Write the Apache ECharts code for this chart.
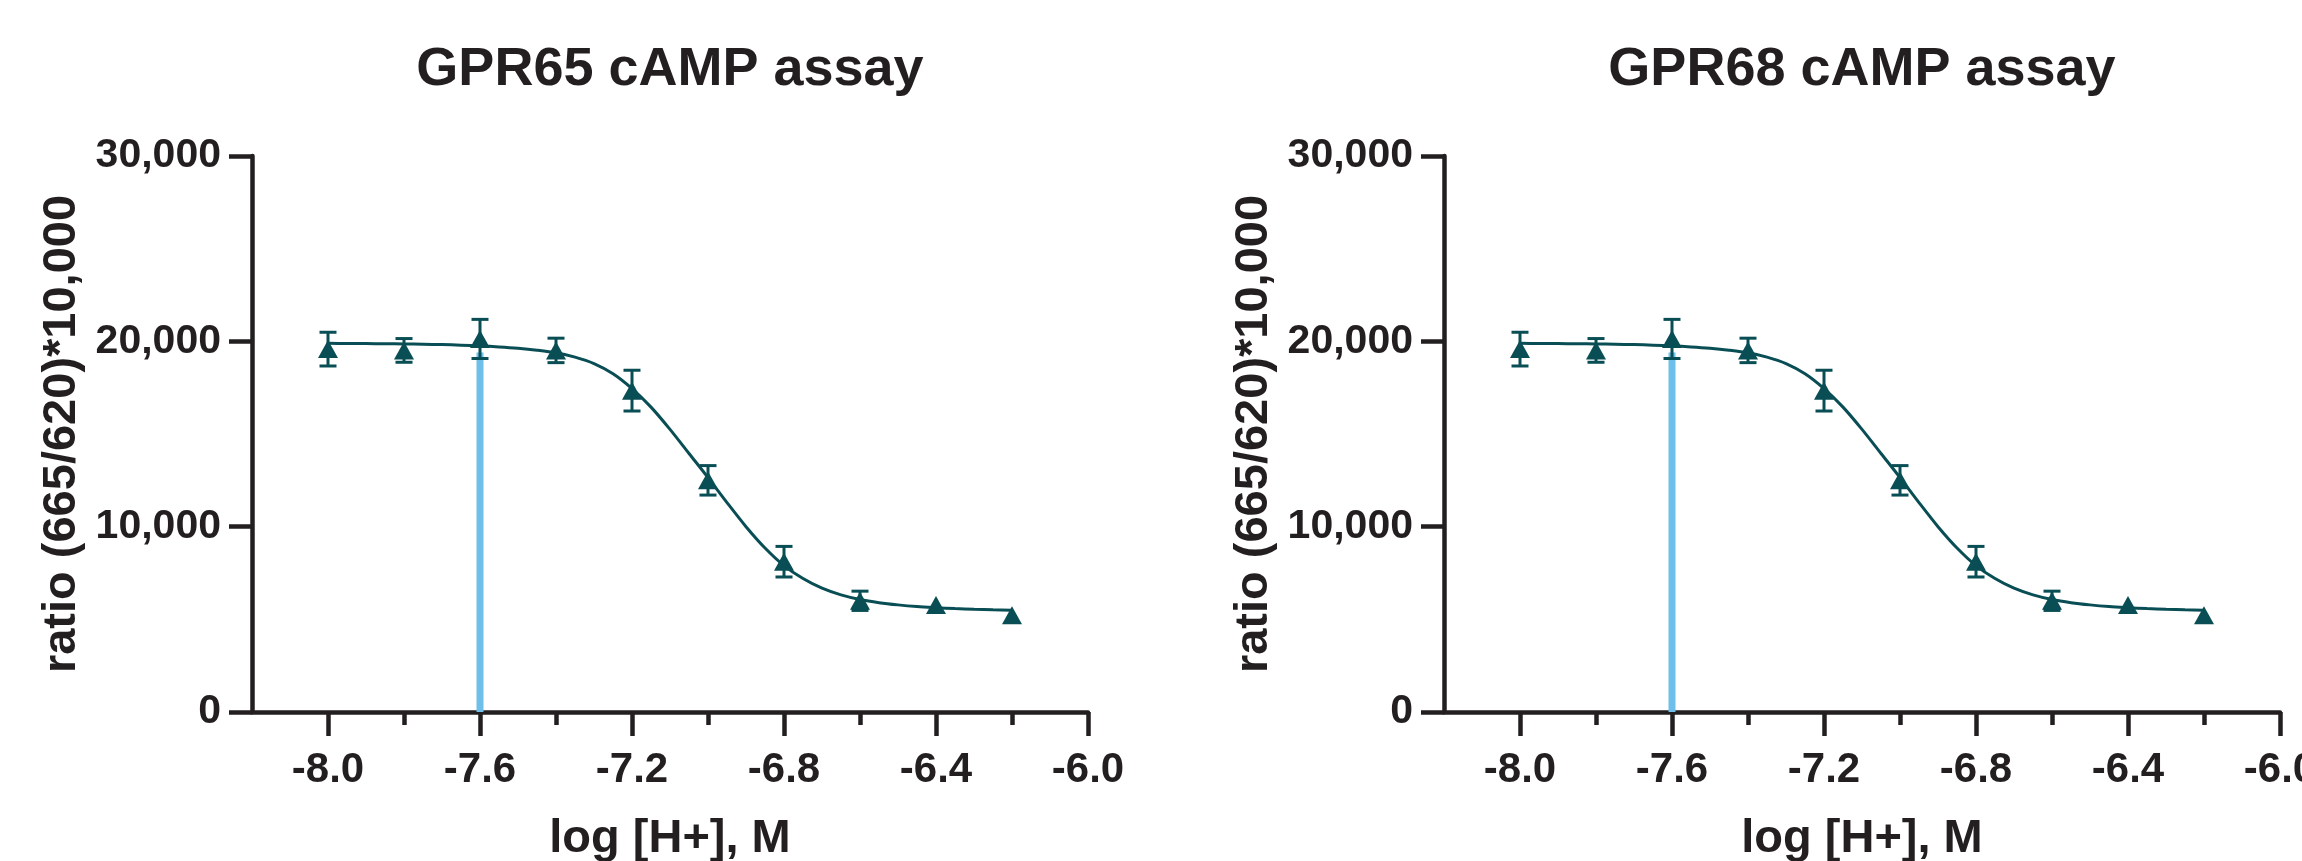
<!DOCTYPE html>
<html>
<head>
<meta charset="utf-8">
<script src="https://cdn.jsdelivr.net/npm/echarts@6/dist/echarts.min.js"></script>
<style>
html,body{margin:0;padding:0;background:#fff;}
#chart{width:2302px;height:861px;}
</style>
</head>
<body>
<div id="chart"></div>
<script>
// ---- data ----
const panelTitles = ['GPR65 cAMP assay', 'GPR68 cAMP assay'];
const xAxisName = 'log [H+], M';
const yAxisName = 'ratio (665/620)*10,000';

// measured points (mean ± error)
const logH = [-8.0, -7.8, -7.6, -7.4, -7.2, -7.0, -6.8, -6.6, -6.4, -6.2];
const ratioMean = [19580, 19510, 20130, 19510, 17340, 12500, 8110, 6000, 5770, 5220];
const ratioErr  = [910, 640, 1055, 660, 1100, 795, 825, 520, 0, 0];

// fitted curve
const curveX = [-8.00, -7.95, -7.90, -7.85, -7.80, -7.75, -7.70, -7.65, -7.60, -7.55,
                -7.50, -7.45, -7.40, -7.35, -7.30, -7.25, -7.20, -7.15, -7.10, -7.05,
                -7.00, -6.95, -6.90, -6.85, -6.80, -6.75, -6.70, -6.65, -6.60, -6.55,
                -6.50, -6.45, -6.40, -6.35, -6.30, -6.25, -6.20];
const curveY = [19890, 19885, 19880, 19870, 19860, 19845, 19825, 19795, 19755, 19700,
                19625, 19520, 19380, 19150, 18800, 18250, 17450, 16450, 15250, 13950,
                12650, 11300, 10000, 8850, 7900, 7200, 6680, 6320, 6070, 5900,
                5780, 5690, 5630, 5580, 5545, 5515, 5490];

// highlighted vertical line
const markX = -7.6;
const markTop = 19400;

// axis ticks
const xMajorTicks = [-8.0, -7.6, -7.2, -6.8, -6.4, -6.0];
const xMinorTicks = [-7.8, -7.4, -7.0, -6.6, -6.2];

// ---- styling ----
const INK = '#231f20';
const TEAL = '#0a4e55';
const BLUE = '#6ec0ea';
const FONT = '"Liberation Sans", Arial, Helvetica, sans-serif';

const grids = [
  {left: 252, top: 156, width: 836, height: 556},
  {left: 1444, top: 156, width: 836, height: 556}
];

const chart = echarts.init(document.getElementById('chart'), null, {renderer: 'canvas'});

const option = {
  backgroundColor: '#ffffff',
  animation: false,
  title: [],
  grid: [],
  xAxis: [],
  yAxis: [],
  series: []
};

grids.forEach((g, i) => {
  option.grid.push({left: g.left, top: g.top, width: g.width, height: g.height,
    containLabel: false, outerBoundsMode: 'none'});
  option.title.push({
    text: panelTitles[i],
    left: g.left + g.width / 2,
    top: 43,
    padding: 0,
    textAlign: 'center',
    textStyle: {fontFamily: FONT, fontWeight: 'bold', fontSize: 54, color: INK}
  });
  // main x axis with major ticks and labels
  option.xAxis.push({
    type: 'value', gridIndex: i, min: -8.2, max: -6.0, interval: 0.2,
    name: xAxisName, nameLocation: 'middle', nameGap: 104,
    nameTextStyle: {fontFamily: FONT, fontWeight: 'bold', fontSize: 47, color: INK},
    axisLine: {show: true, onZero: false, lineStyle: {color: INK, width: 4.5}},
    axisTick: {show: true, inside: false, length: 24, customValues: xMajorTicks, lineStyle: {color: INK, width: 4.5}},
    axisLabel: {show: true, customValues: xMajorTicks, margin: 37, hideOverlap: false,
      formatter: v => v.toFixed(1),
      fontFamily: FONT, fontWeight: 'bold', fontSize: 42, color: INK},
    splitLine: {show: false}
  });
  // overlay x axis for shorter minor ticks
  option.xAxis.push({
    type: 'value', gridIndex: i, min: -8.2, max: -6.0, interval: 0.2, position: 'bottom',
    axisLine: {show: false, onZero: false},
    axisTick: {show: true, length: 13, customValues: xMinorTicks, lineStyle: {color: INK, width: 4.5}},
    axisLabel: {show: false},
    splitLine: {show: false}
  });
  option.yAxis.push({
    type: 'value', gridIndex: i, min: 0, max: 30000, interval: 10000,
    name: yAxisName, nameLocation: 'middle', nameGap: 166, nameRotate: 90,
    nameTextStyle: {fontFamily: FONT, fontWeight: 'bold', fontSize: 47, color: INK},
    axisLine: {show: true, lineStyle: {color: INK, width: 4.5}},
    axisTick: {show: true, length: 23, lineStyle: {color: INK, width: 4.5}},
    axisLabel: {margin: 31, formatter: v => v.toLocaleString('en-US'),
      fontFamily: FONT, fontWeight: 'bold', fontSize: 41, color: INK},
    splitLine: {show: false}
  });

  const xi = i * 2;
  // highlighted vertical line
  option.series.push({
    type: 'line', xAxisIndex: xi, yAxisIndex: i, z: 1,
    data: [[markX, 0], [markX, markTop]],
    symbol: 'none', lineStyle: {color: BLUE, width: 7}, silent: true
  });
  // fitted curve
  option.series.push({
    type: 'line', xAxisIndex: xi, yAxisIndex: i, z: 2,
    data: curveX.map((x, k) => [x, curveY[k]]),
    smooth: 0.3,
    symbol: 'none', lineStyle: {color: TEAL, width: 3}
  });
  // error bars
  option.series.push({
    type: 'custom', xAxisIndex: xi, yAxisIndex: i, z: 3,
    encode: {x: 0, y: [1, 2]},
    data: logH.map((x, k) => [x, ratioMean[k] - ratioErr[k], ratioMean[k] + ratioErr[k]]),
    renderItem: (params, api) => {
      const x = api.value(0), lo = api.value(1), hi = api.value(2);
      if (hi === lo) return null;
      const pH = api.coord([x, hi]);
      const pL = api.coord([x, lo]);
      const hw = 8.5;
      const st = {stroke: TEAL, lineWidth: 3};
      return {
        type: 'group',
        children: [
          {type: 'line', shape: {x1: pH[0], y1: pH[1], x2: pL[0], y2: pL[1]}, style: st},
          {type: 'line', shape: {x1: pH[0] - hw, y1: pH[1], x2: pH[0] + hw, y2: pH[1]}, style: st},
          {type: 'line', shape: {x1: pL[0] - hw, y1: pL[1], x2: pL[0] + hw, y2: pL[1]}, style: st}
        ]
      };
    }
  });
  // markers
  option.series.push({
    type: 'scatter', xAxisIndex: xi, yAxisIndex: i, z: 4,
    data: logH.map((x, k) => [x, ratioMean[k]]),
    symbol: 'triangle', symbolSize: [20, 18],
    itemStyle: {color: TEAL, opacity: 1}
  });
});

chart.setOption(option);
</script>
</body>
</html>
